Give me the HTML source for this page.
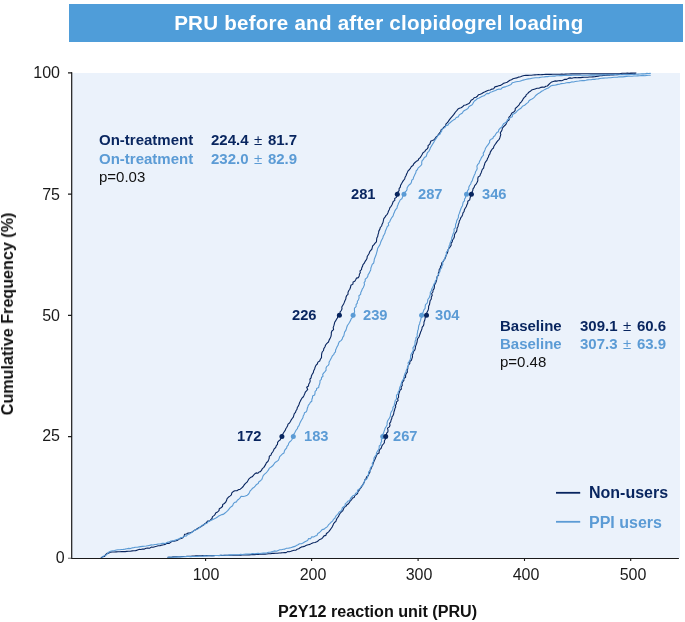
<!DOCTYPE html>
<html><head><meta charset="utf-8"><title>PRU</title>
<style>
html,body{margin:0;padding:0;background:#fff;}
body{width:685px;height:622px;position:relative;overflow:hidden;font-family:"Liberation Sans",sans-serif;}
.abs,.yt,.xt,#title{will-change:transform;}
.abs{position:absolute;white-space:pre;line-height:1;}
#title{left:69px;top:3.5px;width:614px;height:38px;background:#4f9dd9;color:#fff;font-weight:bold;font-size:20.6px;letter-spacing:0.22px;text-align:center;line-height:38px;position:absolute;padding-left:5.6px;box-sizing:border-box;}
#plot{position:absolute;left:72px;top:72.5px;width:607.7px;height:485.5px;background:#ebf2fb;}
.yt{position:absolute;width:60px;left:0;text-align:right;font-size:16px;line-height:16px;height:16px;color:#1a1a1a;}
.xt{position:absolute;width:60px;text-align:center;font-size:16px;line-height:16px;height:16px;top:567.2px;color:#1a1a1a;}
.b{font-weight:bold;}
.dk{color:#08255f;} .lt{color:#5b9bd5;}
.ann{font-size:15px;} .lb{font-size:14.7px;} .v{word-spacing:1.4px;}
svg{position:absolute;left:0;top:0;}
</style></head><body>
<div id="title">PRU before and after clopidogrel loading</div>
<div id="plot"></div>
<svg width="685" height="622" viewBox="0 0 685 622">
<defs><clipPath id="cp"><rect x="72" y="72.1" width="608" height="486.5"/></clipPath></defs>
<g clip-path="url(#cp)" fill="none" stroke-width="1.1" stroke-linejoin="round" stroke-linecap="round">
<path stroke="#08255f" d="M101.2,557.8 L102.7,556.8 L104.6,556.4 L105.6,554.6 L107.0,553.4 L108.9,553.1 L110.5,552.1 L112.4,552.0 L114.3,552.0 L116.3,551.9 L118.0,551.8 L119.8,551.7 L121.5,551.6 L123.3,551.5 L125.1,551.6 L126.8,551.4 L128.5,551.2 L130.3,551.2 L132.1,550.9 L133.9,550.8 L135.6,550.6 L137.3,550.1 L139.0,549.4 L140.9,549.5 L142.6,549.0 L144.4,549.1 L146.1,548.3 L147.8,548.1 L149.6,548.2 L151.3,547.1 L153.1,547.2 L154.8,546.7 L156.5,546.3 L158.3,545.8 L160.1,545.7 L161.8,545.1 L163.6,544.8 L165.3,544.4 L166.9,543.2 L169.0,543.5 L170.6,542.4 L172.2,541.3 L174.1,541.1 L176.0,540.8 L177.8,540.2 L179.3,538.9 L181.2,538.5 L182.9,537.7 L184.1,536.1 L184.6,534.2 L186.4,534.0 L188.1,533.1 L189.9,532.8 L191.5,532.3 L193.0,531.4 L194.3,530.3 L195.8,529.7 L197.2,528.7 L198.7,527.8 L200.4,527.1 L201.9,526.0 L203.5,525.1 L204.8,523.7 L206.4,522.7 L207.6,521.1 L209.6,521.0 L210.8,519.6 L212.0,518.5 L212.5,516.6 L214.0,515.6 L215.1,514.3 L215.9,512.7 L217.6,511.9 L219.0,510.7 L219.3,508.7 L221.0,507.7 L222.5,506.5 L222.7,504.4 L224.4,503.5 L225.7,502.2 L226.5,500.6 L227.1,498.6 L228.3,497.3 L229.9,496.1 L231.4,494.9 L231.8,492.9 L233.2,491.6 L234.9,490.7 L236.9,490.8 L238.5,489.6 L240.3,489.2 L241.8,487.8 L243.2,486.5 L244.2,484.9 L245.5,483.4 L247.0,482.1 L248.0,480.5 L249.0,478.8 L250.4,477.6 L252.2,476.8 L253.4,475.4 L254.6,474.0 L256.1,472.9 L257.8,473.3 L259.0,472.0 L260.4,471.6 L261.6,470.2 L262.4,468.6 L263.9,467.4 L264.8,465.9 L265.7,464.4 L266.4,462.7 L267.9,461.5 L268.6,459.9 L269.2,458.2 L269.3,456.2 L271.0,455.1 L271.5,453.4 L272.7,452.0 L273.5,450.5 L274.2,448.8 L275.7,447.5 L276.3,445.7 L277.5,444.4 L277.6,442.3 L278.8,440.9 L280.3,439.7 L281.0,438.0 L281.8,436.3 L282.4,434.7 L283.3,433.2 L284.2,431.8 L285.2,430.4 L285.8,428.8 L286.8,427.3 L287.6,425.8 L288.0,424.1 L289.5,423.0 L290.4,421.5 L291.2,419.9 L292.2,418.5 L293.3,417.1 L293.8,415.4 L294.3,413.7 L295.5,412.4 L296.0,410.7 L297.0,409.3 L297.3,407.5 L298.3,406.1 L299.0,404.5 L299.5,402.8 L300.3,401.3 L301.0,399.7 L301.9,398.2 L303.2,397.0 L304.0,395.4 L304.7,393.8 L305.3,392.2 L306.5,390.9 L307.7,389.4 L306.7,387.3 L308.5,386.0 L308.7,384.3 L309.6,382.8 L310.2,381.1 L309.9,379.2 L311.1,377.8 L311.4,375.9 L312.2,374.2 L313.3,372.6 L313.7,370.7 L314.6,369.0 L315.1,367.2 L315.9,365.4 L317.3,364.0 L317.9,362.1 L319.7,361.0 L320.4,359.2 L321.5,357.6 L321.5,355.6 L321.7,353.8 L322.2,352.0 L323.5,350.5 L323.8,348.6 L324.9,347.0 L325.6,345.0 L326.9,343.4 L328.5,342.0 L329.1,340.1 L330.1,338.4 L330.9,336.6 L331.3,334.6 L331.3,332.7 L331.9,331.0 L333.6,329.6 L333.2,327.6 L333.8,325.9 L334.3,324.1 L334.7,322.3 L335.6,320.9 L336.4,319.4 L337.4,318.0 L337.8,316.3 L339.6,315.5 L340.0,313.7 L340.1,311.9 L341.3,310.5 L342.0,308.9 L341.8,307.0 L342.7,305.5 L343.6,304.0 L344.3,302.4 L344.9,300.7 L345.8,299.1 L346.0,297.3 L346.6,295.7 L348.0,294.3 L348.0,292.4 L348.7,290.8 L349.8,289.2 L350.5,287.3 L350.9,285.3 L352.9,284.1 L353.1,282.0 L354.8,281.3 L355.7,279.7 L356.5,278.1 L358.4,277.6 L359.2,275.9 L359.4,274.2 L360.3,272.7 L360.0,270.9 L361.5,269.6 L361.7,268.0 L362.5,266.3 L363.0,264.6 L364.3,263.2 L365.0,261.6 L366.0,260.1 L367.0,258.5 L367.2,256.6 L368.0,255.2 L369.0,253.8 L369.5,252.1 L370.4,250.7 L371.7,249.5 L372.2,247.8 L372.6,246.0 L374.0,244.7 L375.1,243.2 L376.4,241.9 L376.6,240.0 L376.8,238.1 L377.7,236.5 L378.0,234.7 L378.6,232.9 L378.8,231.1 L379.8,229.4 L380.3,227.5 L381.6,226.0 L382.1,224.2 L383.0,222.5 L383.4,220.5 L383.8,218.6 L385.0,217.1 L385.9,215.6 L387.2,214.3 L388.0,212.7 L388.5,211.0 L389.4,209.4 L389.9,207.7 L391.1,206.3 L392.0,204.8 L392.6,203.2 L393.2,201.5 L394.8,200.4 L394.7,198.5 L396.4,197.4 L397.0,195.8 L397.5,194.1 L397.8,192.2 L399.1,190.7 L399.1,188.7 L400.3,187.1 L400.6,185.2 L401.6,183.6 L402.5,181.9 L403.5,180.4 L404.7,179.0 L405.1,177.2 L406.0,175.7 L406.6,174.0 L407.4,172.4 L408.1,170.8 L409.5,169.5 L410.5,168.1 L411.4,166.5 L413.0,165.5 L413.7,163.8 L415.0,162.5 L416.3,161.3 L418.0,160.4 L418.8,158.7 L420.2,157.6 L421.2,156.0 L422.1,154.4 L423.0,152.7 L424.7,151.6 L425.7,150.0 L427.2,148.9 L428.1,147.4 L428.1,145.5 L429.7,144.4 L430.3,142.7 L430.9,141.0 L432.5,140.4 L434.1,139.7 L435.2,138.4 L436.1,137.0 L437.5,135.8 L438.5,134.3 L439.6,132.9 L440.7,131.5 L441.2,129.7 L442.8,128.6 L443.9,127.1 L445.5,126.0 L446.0,123.9 L447.4,122.7 L448.5,121.1 L449.5,119.6 L450.7,118.1 L452.0,116.6 L453.3,115.2 L454.4,113.6 L455.5,112.0 L456.8,110.6 L458.0,109.0 L459.4,108.2 L461.1,107.7 L462.6,106.8 L463.9,105.3 L465.7,105.0 L467.3,104.2 L468.9,103.6 L470.1,102.1 L471.1,100.3 L473.0,99.3 L474.1,97.7 L476.0,97.3 L477.4,96.2 L478.6,94.7 L480.3,94.3 L481.9,93.5 L483.4,92.5 L485.1,91.8 L486.7,90.9 L488.4,90.3 L490.2,90.0 L491.9,89.1 L493.7,88.7 L494.9,86.9 L496.9,86.4 L498.6,85.7 L500.7,85.4 L502.3,84.3 L503.9,83.1 L505.5,82.7 L507.1,82.2 L508.5,81.2 L509.9,80.2 L511.5,79.7 L513.0,78.8 L514.9,78.3 L516.8,77.9 L518.6,77.1 L520.5,76.7 L522.3,76.0 L524.2,75.5 L526.0,75.3 L527.8,75.4 L529.6,75.2 L531.4,75.2 L533.1,75.0 L534.9,74.9 L536.7,74.8 L538.5,74.6 L540.3,74.7 L542.1,74.6 L543.9,74.5 L545.7,74.4 L547.5,74.4 L549.3,74.4 L551.0,74.4 L552.8,74.3 L554.6,74.3 L556.4,74.3 L558.2,74.2 L560.0,74.2 L561.8,74.1 L563.7,74.2 L565.5,74.1 L567.3,74.0 L569.1,74.0 L571.0,73.9 L572.8,73.9 L574.6,73.8 L576.4,73.9 L578.2,73.8 L580.0,73.9 L581.8,73.8 L583.6,73.8 L585.5,73.8 L587.3,73.8 L589.1,73.8 L590.9,73.9 L592.7,73.9 L594.5,73.8 L596.3,73.9 L598.1,73.8 L599.9,73.9 L601.7,73.8 L603.5,73.9 L605.3,73.8 L607.2,73.8 L609.0,73.8 L610.8,73.8 L612.6,73.7 L614.4,73.8 L616.2,73.8 L618.0,73.8 L620.0,73.7 L622.0,73.3 L624.0,73.2 L625.7,73.2 L627.4,73.1 L629.1,73.2 L630.9,73.0 L632.6,73.1 L634.3,73.1 L636.0,73.0"/>
<path stroke="#08255f" d="M167.9,557.3 L169.7,557.3 L171.4,557.2 L173.1,556.9 L174.9,556.8 L176.6,556.8 L178.4,556.8 L180.1,556.7 L181.9,556.5 L183.6,556.5 L185.4,556.5 L187.1,556.2 L188.9,556.3 L190.7,556.2 L192.4,556.1 L194.2,556.0 L195.9,555.8 L197.6,555.8 L199.4,555.8 L201.2,555.7 L203.0,555.6 L204.8,555.6 L206.6,555.6 L208.4,555.6 L210.1,555.6 L211.9,555.6 L213.7,555.6 L215.5,555.5 L217.3,555.5 L219.1,555.5 L220.9,555.4 L222.7,555.5 L224.5,555.4 L226.3,555.3 L228.1,555.3 L229.8,555.3 L231.6,555.3 L233.4,555.2 L235.2,555.2 L237.0,555.2 L238.8,555.2 L240.6,555.2 L242.3,555.0 L244.1,555.0 L245.8,555.0 L247.6,554.9 L249.3,554.9 L251.1,554.6 L252.8,554.6 L254.6,554.6 L256.3,554.4 L258.1,554.4 L259.8,554.3 L261.6,554.2 L263.3,554.1 L265.1,554.1 L266.8,554.0 L268.6,553.7 L270.4,553.7 L272.1,553.4 L273.8,553.4 L275.6,553.2 L277.4,553.2 L279.1,553.0 L280.8,552.9 L282.6,552.7 L284.4,552.6 L286.1,552.6 L287.6,551.6 L289.3,551.8 L290.9,551.3 L292.4,550.7 L294.0,550.3 L295.8,550.3 L297.1,549.2 L298.7,548.8 L300.1,547.7 L301.6,546.9 L303.3,546.6 L305.0,546.1 L306.5,545.3 L308.2,544.7 L310.0,544.4 L311.6,543.4 L313.2,542.8 L315.0,542.5 L316.8,541.8 L318.3,540.7 L319.8,539.4 L321.6,538.8 L322.9,537.3 L324.0,535.9 L325.9,535.4 L326.4,533.5 L327.9,532.5 L329.0,531.3 L330.1,529.9 L331.1,528.5 L332.1,527.1 L332.9,525.6 L333.5,523.9 L334.5,522.5 L335.9,521.3 L336.4,519.7 L337.2,518.0 L338.4,516.7 L339.1,515.0 L340.0,513.5 L341.2,512.2 L342.6,510.9 L343.4,509.2 L344.2,507.4 L345.9,506.4 L346.9,504.8 L348.5,503.7 L349.5,502.2 L350.4,500.8 L351.7,499.6 L352.5,498.1 L354.2,497.4 L354.8,495.6 L356.2,494.6 L357.6,493.5 L357.9,491.7 L359.1,490.4 L359.9,488.9 L361.0,487.6 L361.9,486.1 L362.8,484.7 L363.6,483.2 L364.5,481.7 L364.8,479.9 L366.2,478.7 L366.5,476.9 L368.2,475.8 L368.7,474.1 L369.8,472.5 L370.0,470.5 L371.0,468.9 L371.7,467.1 L372.6,465.4 L373.1,463.5 L373.8,461.8 L374.5,460.2 L375.2,458.7 L375.9,457.1 L376.5,455.6 L377.2,454.1 L379.1,453.1 L379.1,451.3 L379.6,449.6 L381.0,448.5 L381.6,446.9 L382.2,445.3 L383.4,444.0 L384.4,442.6 L384.4,440.7 L385.6,438.8 L385.8,436.5 L386.6,435.0 L386.6,433.2 L387.9,431.8 L388.0,430.1 L387.5,428.1 L389.4,426.9 L390.0,425.2 L389.6,423.3 L390.7,421.8 L391.1,420.1 L391.8,418.6 L392.0,416.8 L393.1,415.3 L393.7,413.7 L393.9,412.0 L394.5,410.3 L394.9,408.6 L395.7,407.1 L395.5,405.2 L396.4,403.7 L396.5,401.9 L398.1,400.6 L397.6,398.7 L398.6,397.2 L398.5,395.3 L398.9,393.7 L399.4,392.0 L399.9,390.3 L401.4,389.0 L401.1,387.0 L402.3,385.5 L402.0,383.5 L402.7,381.9 L403.9,380.4 L403.8,378.5 L405.6,377.2 L405.6,375.3 L406.2,373.6 L407.4,372.2 L407.2,370.2 L407.8,368.5 L407.8,366.6 L408.6,365.0 L409.8,363.5 L409.8,361.6 L411.4,360.3 L411.9,358.6 L412.5,356.9 L412.3,355.0 L413.1,353.4 L413.4,351.7 L414.7,350.2 L415.3,348.6 L415.4,346.8 L416.0,345.1 L416.6,343.5 L417.1,341.8 L417.3,340.1 L417.8,338.4 L419.0,337.0 L419.5,335.4 L420.1,333.8 L420.6,332.1 L421.4,330.5 L421.9,328.9 L422.2,327.2 L423.5,325.7 L423.9,323.9 L424.0,322.0 L424.7,320.3 L425.1,318.5 L425.4,316.7 L426.4,315.0 L426.6,313.2 L427.4,311.6 L428.2,310.0 L428.6,308.2 L428.6,306.2 L429.5,304.5 L429.8,302.6 L430.1,300.7 L431.3,299.0 L431.3,297.1 L432.2,295.5 L431.7,293.5 L432.9,292.0 L433.0,290.2 L434.1,288.7 L434.4,286.9 L434.4,285.1 L435.4,283.5 L436.1,281.8 L436.6,280.1 L436.8,278.4 L437.1,276.6 L438.6,275.2 L438.3,273.2 L439.1,271.6 L439.2,269.7 L440.3,268.2 L440.5,266.4 L441.7,264.9 L441.7,263.0 L443.2,261.6 L444.0,260.0 L445.1,258.5 L445.7,256.8 L446.2,255.0 L447.1,253.5 L447.8,251.8 L448.0,249.8 L449.0,248.3 L450.1,246.9 L451.2,245.3 L451.0,243.3 L452.2,241.8 L452.6,240.0 L453.7,238.5 L454.4,236.8 L454.4,234.9 L455.2,233.2 L456.5,231.7 L456.9,229.9 L457.1,228.1 L458.0,226.4 L458.3,224.6 L459.0,222.9 L459.3,221.0 L460.2,219.4 L460.8,217.7 L461.9,216.3 L462.6,214.7 L463.0,212.9 L464.1,211.5 L464.4,209.7 L465.2,208.2 L466.2,206.7 L466.8,205.0 L467.7,203.3 L467.8,201.3 L469.7,199.9 L470.1,198.0 L470.7,196.1 L471.2,194.3 L471.8,192.5 L472.7,190.8 L473.0,188.9 L474.1,187.4 L474.7,185.6 L476.1,184.1 L477.0,182.4 L477.8,180.7 L477.8,178.7 L478.2,177.0 L479.9,175.9 L480.4,174.2 L481.2,172.7 L481.7,171.1 L482.3,169.4 L483.6,168.1 L483.9,166.4 L484.5,164.8 L484.9,163.0 L485.8,161.6 L487.0,160.2 L487.5,158.5 L488.4,157.0 L488.8,155.3 L489.9,153.9 L490.3,152.1 L491.2,150.6 L492.1,149.2 L493.5,148.0 L493.9,146.2 L494.9,144.8 L495.9,143.4 L496.9,141.9 L497.9,140.6 L499.2,139.3 L499.9,137.7 L500.3,136.1 L500.8,134.6 L500.3,132.8 L501.3,131.4 L502.0,129.9 L502.4,128.1 L503.6,126.7 L504.8,125.5 L506.1,124.2 L506.7,122.4 L507.7,120.9 L509.2,119.7 L508.8,117.4 L510.1,116.1 L511.1,114.5 L511.9,112.9 L513.8,112.0 L515.1,110.7 L515.3,108.4 L516.8,107.2 L518.1,105.9 L519.3,104.6 L520.1,103.0 L521.4,101.8 L522.4,100.4 L523.2,98.8 L524.3,97.4 L525.7,96.3 L526.3,94.6 L527.7,93.6 L528.8,92.2 L530.3,91.3 L531.6,90.1 L533.3,89.5 L535.1,88.9 L537.0,88.3 L538.9,88.3 L540.7,87.4 L542.6,87.1 L544.4,87.3 L545.8,86.3 L547.4,86.0 L548.8,84.5 L550.2,83.1 L551.7,81.9 L553.3,81.4 L554.9,80.9 L556.6,81.1 L558.3,80.7 L560.0,80.6 L561.7,80.7 L563.3,80.1 L564.9,79.3 L566.7,79.4 L568.3,78.4 L570.0,77.9 L571.9,78.2 L573.6,77.8 L575.3,77.6 L577.1,77.7 L578.8,77.6 L580.6,77.6 L582.3,77.4 L584.1,77.3 L585.9,77.3 L587.6,77.2 L589.4,77.0 L591.1,77.0 L592.9,76.9 L594.7,76.8 L596.4,76.4 L598.2,76.1 L600.0,75.8 L601.7,75.7 L603.5,75.4 L605.4,75.2 L607.3,74.9 L609.3,75.1 L611.2,74.8 L613.1,74.9 L615.0,74.7 L616.9,74.7 L618.9,74.5 L620.8,74.4 L622.8,74.3 L624.7,74.3 L626.5,74.2 L628.2,74.0 L630.0,73.9 L631.8,74.1 L633.5,74.1 L635.3,73.9"/>
<path stroke="#5b9bd5" d="M101.8,557.8 L103.1,556.3 L105.0,555.6 L106.7,554.7 L108.0,553.1 L109.3,551.7 L111.2,551.0 L112.9,550.8 L114.6,550.6 L116.3,550.0 L118.0,549.8 L119.8,549.8 L121.5,549.5 L123.3,549.4 L125.0,549.1 L126.8,548.7 L128.5,548.4 L130.3,548.6 L132.0,547.9 L133.8,547.6 L135.5,547.2 L137.3,547.2 L139.1,546.9 L140.8,546.6 L142.5,546.4 L144.3,546.2 L146.1,546.0 L147.8,545.7 L149.6,545.4 L151.3,544.9 L153.1,545.0 L154.8,544.5 L156.6,544.4 L158.3,544.0 L160.1,544.0 L161.8,543.4 L163.6,543.2 L165.5,543.5 L167.1,542.4 L168.8,542.1 L170.5,541.1 L172.3,540.9 L174.1,540.6 L175.8,539.9 L177.6,539.4 L179.4,538.7 L181.0,537.5 L183.0,537.3 L184.5,536.1 L186.5,535.9 L187.7,534.5 L189.4,534.0 L190.8,532.9 L192.4,532.2 L193.5,530.8 L195.2,530.2 L196.5,529.1 L198.3,528.7 L199.6,527.5 L200.9,526.5 L202.2,525.2 L204.0,524.8 L205.3,523.8 L207.0,523.3 L208.1,521.7 L209.6,521.0 L211.3,520.3 L212.8,519.5 L214.4,518.7 L215.9,517.9 L217.5,517.0 L218.8,515.9 L220.4,515.2 L222.0,514.6 L223.7,514.1 L225.0,513.0 L226.4,511.9 L227.7,510.7 L228.8,509.3 L229.9,507.9 L231.2,506.7 L232.6,505.7 L233.3,503.9 L234.4,502.5 L236.4,501.9 L237.3,500.2 L238.8,499.2 L240.1,497.9 L241.1,496.3 L243.3,496.5 L245.3,496.0 L247.3,495.2 L248.6,494.0 L249.5,492.4 L250.2,490.8 L251.5,489.6 L252.6,488.2 L254.2,487.2 L255.4,485.9 L256.5,484.4 L258.2,483.5 L258.9,481.7 L260.5,480.7 L261.9,479.3 L262.6,477.4 L263.2,475.6 L264.6,474.2 L266.1,472.9 L267.3,471.5 L268.5,469.9 L269.4,468.1 L271.1,467.0 L272.7,465.8 L273.9,464.2 L275.0,462.5 L276.7,461.5 L278.3,460.4 L279.1,458.6 L279.7,456.7 L281.0,455.4 L282.3,454.0 L284.0,453.0 L284.4,451.1 L285.2,449.5 L286.6,448.2 L287.0,446.4 L288.2,445.1 L288.7,443.3 L289.6,442.0 L290.9,440.8 L292.0,439.5 L292.6,437.9 L293.3,436.4 L293.5,434.5 L294.6,433.1 L295.4,431.6 L296.2,430.0 L297.4,428.7 L297.9,426.9 L299.0,425.6 L299.6,423.9 L300.3,422.3 L301.1,420.8 L302.0,419.3 L302.9,417.8 L303.2,416.0 L304.1,414.5 L304.5,412.7 L306.3,411.7 L307.0,410.1 L307.3,408.3 L307.9,406.7 L308.4,405.1 L309.6,403.8 L310.4,402.3 L311.8,401.2 L311.9,399.3 L312.5,397.7 L312.6,395.9 L314.6,395.0 L315.0,393.3 L315.1,391.4 L316.5,390.2 L316.6,388.4 L318.7,387.5 L318.9,385.7 L319.6,384.1 L320.0,382.4 L320.0,380.6 L321.4,379.3 L321.5,377.5 L323.0,376.3 L322.7,374.3 L323.8,372.9 L325.0,371.6 L326.1,370.2 L326.0,368.2 L326.6,366.6 L328.2,365.4 L329.0,363.9 L329.1,362.0 L330.0,360.5 L330.8,358.9 L331.6,357.4 L332.3,355.9 L333.7,354.7 L334.3,353.1 L335.5,351.9 L335.6,350.0 L336.3,348.5 L337.0,346.9 L338.0,345.3 L338.5,343.5 L339.3,341.8 L341.0,340.6 L342.2,339.1 L342.7,337.3 L343.8,335.8 L344.2,334.0 L344.6,332.2 L345.7,330.7 L346.3,329.0 L346.8,327.2 L347.4,325.5 L348.5,324.0 L349.6,322.3 L350.5,320.6 L351.2,318.7 L352.7,317.3 L353.1,315.3 L353.8,313.6 L354.6,311.9 L354.4,310.0 L354.5,308.1 L356.1,306.6 L356.1,304.7 L357.3,303.2 L357.4,301.3 L358.5,299.7 L359.1,297.9 L358.9,295.7 L360.6,294.4 L360.8,292.5 L361.7,290.8 L362.2,289.1 L363.2,287.7 L363.9,286.1 L364.5,284.5 L364.1,282.6 L365.2,281.2 L365.2,279.2 L366.8,277.9 L367.8,276.4 L368.1,274.6 L369.2,273.1 L369.9,271.5 L370.7,269.9 L370.9,267.9 L371.6,266.2 L372.2,264.4 L373.7,263.0 L374.1,261.2 L374.3,259.2 L375.0,257.5 L375.7,255.8 L376.3,254.0 L376.8,252.2 L377.3,250.5 L377.6,248.6 L378.5,247.0 L379.5,245.4 L380.2,243.9 L380.7,242.3 L381.3,240.7 L382.1,239.2 L382.9,237.7 L383.3,236.0 L384.2,234.6 L385.0,233.1 L385.3,231.3 L386.0,229.7 L386.7,228.1 L387.3,226.5 L388.7,225.3 L388.3,223.2 L389.7,221.9 L390.3,220.3 L391.1,218.8 L392.0,217.3 L393.1,215.9 L393.6,214.1 L394.3,212.6 L394.9,210.9 L395.8,209.4 L397.0,208.1 L397.3,206.3 L398.0,204.7 L398.6,203.0 L399.5,201.5 L400.2,199.9 L401.9,198.8 L402.5,197.1 L403.1,195.5 L404.2,194.1 L404.7,192.4 L406.1,191.1 L407.0,189.7 L407.1,187.7 L408.1,186.2 L409.2,184.8 L410.7,183.7 L411.5,182.1 L411.7,180.3 L413.2,179.1 L413.5,177.4 L414.3,175.8 L415.0,174.3 L415.8,172.8 L416.1,171.0 L417.4,169.7 L418.0,168.1 L419.4,166.9 L420.8,165.7 L421.8,164.3 L421.7,162.2 L422.2,160.5 L423.5,159.3 L424.3,157.5 L426.2,156.4 L426.8,154.5 L427.4,152.6 L428.9,151.3 L429.8,149.6 L430.4,147.8 L431.4,146.1 L432.4,144.5 L433.4,142.9 L434.4,141.3 L435.3,139.6 L436.4,138.2 L437.2,136.7 L438.1,135.2 L439.9,134.3 L440.5,132.7 L441.6,131.3 L442.0,129.4 L443.5,128.4 L445.1,127.4 L445.9,125.6 L447.9,125.1 L448.9,123.5 L450.4,122.5 L451.7,121.2 L453.3,120.1 L455.0,119.2 L456.2,117.5 L458.2,116.9 L459.2,115.0 L460.8,113.9 L462.4,113.0 L463.3,111.3 L464.9,110.3 L466.5,109.5 L468.0,108.4 L468.8,106.7 L470.3,105.8 L471.9,105.0 L472.9,103.6 L473.7,102.0 L474.8,100.7 L476.2,99.7 L477.5,98.5 L479.2,97.9 L480.8,97.1 L482.3,96.3 L484.1,95.8 L485.4,94.6 L486.9,93.4 L488.9,93.6 L490.4,92.2 L492.1,91.7 L493.9,91.1 L495.6,90.5 L497.2,89.5 L499.0,89.1 L501.0,89.2 L502.3,87.6 L504.1,87.1 L505.9,86.6 L507.6,86.0 L509.4,85.2 L511.1,84.4 L512.4,82.7 L514.2,82.3 L516.1,81.8 L517.9,81.5 L519.7,81.3 L521.4,80.7 L523.1,80.1 L524.8,79.7 L526.5,79.3 L528.3,78.9 L530.1,78.8 L531.9,78.3 L533.6,78.0 L535.4,77.8 L537.3,77.8 L539.1,77.6 L540.8,77.3 L542.6,77.0 L544.3,76.9 L546.1,76.6 L547.8,76.6 L549.6,76.3 L551.3,76.2 L553.0,76.0 L554.8,76.1 L556.5,75.8 L558.3,75.7 L560.0,75.6 L561.8,75.6 L563.7,75.5 L565.5,75.4 L567.3,75.5 L569.2,75.4 L571.0,75.4 L572.8,75.3 L574.7,75.3 L576.5,75.2 L578.3,75.3 L580.2,75.2 L582.0,75.2 L583.8,75.3 L585.5,75.2 L587.3,75.3 L589.0,75.1 L590.7,75.1 L592.5,75.1 L594.3,75.1 L596.0,75.0 L597.8,75.0 L599.5,75.0 L601.2,74.9 L603.0,74.9 L604.7,74.8 L606.5,74.8 L608.3,74.9 L610.0,74.8 L611.7,74.8 L613.5,74.7 L615.2,74.6 L616.9,74.8 L618.6,74.7 L620.4,74.6 L622.1,74.7 L623.8,74.6 L625.5,74.6 L627.3,74.6 L629.0,74.6 L630.8,74.5 L632.7,74.4 L634.5,74.2 L636.3,74.2 L638.2,74.1 L640.0,74.0 L641.7,73.9 L643.4,73.9 L645.2,73.9 L646.9,73.4 L648.6,73.5 L650.3,73.4"/>
<path stroke="#5b9bd5" d="M167.9,557.3 L169.6,557.1 L171.4,557.2 L173.1,557.1 L174.9,557.0 L176.7,557.1 L178.4,556.9 L180.1,556.9 L181.9,556.9 L183.6,556.7 L185.4,556.6 L187.1,556.5 L188.9,556.5 L190.7,556.6 L192.4,556.5 L194.2,556.5 L195.9,556.5 L197.7,556.4 L199.4,556.2 L201.2,556.2 L203.0,556.1 L204.8,555.9 L206.6,556.0 L208.4,555.8 L210.1,555.8 L211.9,555.9 L213.7,555.7 L215.5,555.5 L217.3,555.5 L219.1,555.6 L220.9,555.3 L222.7,555.3 L224.5,555.2 L226.3,555.2 L228.1,555.1 L229.8,554.9 L231.6,554.9 L233.4,554.8 L235.2,554.7 L237.0,554.7 L238.8,554.7 L240.5,554.4 L242.3,554.5 L244.1,554.2 L245.8,554.1 L247.6,554.1 L249.3,554.0 L251.1,553.9 L252.8,553.6 L254.6,553.8 L256.3,553.6 L258.1,553.4 L259.8,553.5 L261.6,553.2 L263.3,553.1 L265.1,553.1 L267.0,552.8 L268.8,552.2 L270.8,552.1 L272.6,551.6 L274.4,550.9 L276.4,551.2 L278.2,550.4 L279.8,549.8 L281.5,549.7 L283.2,549.3 L284.9,549.1 L286.4,548.2 L288.2,548.3 L289.8,547.9 L291.4,547.4 L293.1,546.9 L294.9,546.4 L296.4,545.6 L298.0,544.7 L299.5,543.7 L301.4,543.7 L303.0,543.0 L304.5,542.0 L306.0,541.2 L307.6,540.5 L308.6,538.6 L310.6,538.7 L311.6,536.9 L313.6,537.0 L315.1,536.1 L316.9,535.4 L317.8,533.4 L319.5,532.5 L320.8,531.1 L322.1,529.6 L324.2,529.1 L325.8,527.7 L327.5,526.6 L328.4,524.9 L329.8,523.7 L331.0,522.3 L332.6,521.1 L333.4,519.4 L334.9,518.2 L335.6,516.4 L336.9,515.0 L338.2,513.6 L339.2,512.0 L340.9,511.0 L341.9,509.6 L342.3,507.8 L343.7,506.7 L345.1,505.6 L345.3,503.6 L346.8,502.6 L347.7,501.2 L349.7,500.5 L350.5,498.7 L351.6,497.2 L352.8,495.8 L354.8,495.1 L355.6,493.3 L357.4,492.6 L357.5,490.3 L359.1,489.3 L360.2,488.0 L361.2,486.5 L362.6,485.4 L363.7,483.9 L364.1,482.1 L364.7,480.3 L366.6,479.2 L367.5,477.6 L367.6,475.6 L368.7,474.1 L368.5,472.0 L370.4,470.7 L370.2,468.6 L371.1,467.0 L372.7,465.6 L372.2,463.4 L373.3,461.8 L373.8,459.9 L374.0,458.0 L375.0,456.3 L376.3,454.8 L376.5,452.8 L377.5,451.2 L378.7,449.7 L379.2,447.8 L379.2,446.0 L380.8,444.7 L380.8,442.9 L381.7,441.4 L381.3,439.5 L382.8,438.2 L382.5,436.3 L382.5,434.6 L383.5,433.2 L384.0,431.6 L384.6,430.0 L385.1,428.2 L386.2,426.6 L387.1,425.0 L387.1,422.9 L387.5,421.1 L388.5,419.5 L389.6,417.9 L390.3,416.2 L390.5,414.2 L391.0,412.4 L392.0,410.8 L392.9,409.2 L392.9,407.3 L394.2,405.8 L394.4,404.0 L394.9,402.3 L395.2,400.5 L396.5,399.0 L396.5,397.1 L396.5,395.2 L398.0,393.8 L398.1,392.0 L399.2,390.5 L399.5,388.7 L399.9,386.9 L400.8,385.3 L401.2,383.6 L401.7,381.9 L402.6,380.3 L403.6,378.8 L403.9,377.0 L404.5,375.3 L404.9,373.5 L405.9,372.0 L406.3,370.2 L407.2,368.6 L407.5,366.8 L408.7,365.3 L408.0,363.1 L409.1,361.6 L409.9,360.0 L410.6,358.3 L410.6,356.4 L410.9,354.7 L411.8,353.1 L412.8,351.6 L413.3,349.9 L412.9,347.9 L414.0,346.4 L414.9,344.9 L415.0,343.1 L415.1,341.3 L415.9,339.7 L415.9,337.8 L417.3,336.3 L417.1,334.4 L417.5,332.6 L417.7,330.8 L418.4,329.1 L418.5,327.3 L418.8,325.6 L419.6,323.9 L419.9,322.1 L420.6,320.4 L420.9,318.6 L421.7,317.0 L421.6,315.1 L422.5,313.4 L423.3,311.7 L423.9,309.9 L425.1,308.4 L425.2,306.4 L425.5,304.6 L427.2,303.2 L427.6,301.4 L427.8,299.5 L429.1,297.9 L429.7,296.2 L430.3,294.4 L430.3,292.4 L431.4,290.8 L431.7,289.0 L432.6,287.5 L433.3,285.9 L433.9,284.2 L435.0,282.8 L435.3,281.0 L436.5,279.5 L437.0,277.9 L437.5,276.2 L438.3,274.5 L439.2,272.9 L440.0,271.2 L440.2,269.3 L441.6,267.9 L441.9,266.0 L442.8,264.4 L442.5,262.3 L443.3,260.7 L444.8,259.3 L445.0,257.4 L445.8,255.8 L446.6,254.3 L446.2,252.3 L447.5,250.9 L448.6,249.5 L448.8,247.7 L449.1,246.0 L449.8,244.4 L450.2,242.7 L451.0,241.1 L451.7,239.5 L451.7,237.7 L452.5,236.1 L452.9,234.4 L453.6,232.8 L454.2,231.1 L454.0,229.2 L455.3,227.8 L455.5,226.0 L455.6,224.2 L456.5,222.6 L456.6,220.7 L457.6,219.1 L458.4,217.5 L458.4,215.6 L459.1,213.9 L459.7,212.2 L460.3,210.5 L460.9,208.8 L461.6,207.1 L462.5,205.7 L462.8,203.9 L463.2,202.2 L464.5,200.8 L464.5,199.0 L465.6,197.6 L465.5,195.7 L466.7,194.3 L467.1,192.4 L467.6,190.6 L468.8,189.1 L468.8,187.2 L469.6,185.5 L470.8,184.0 L471.2,182.2 L472.3,180.6 L472.8,178.8 L473.6,177.1 L474.2,175.3 L475.1,173.7 L475.5,171.8 L476.6,170.2 L477.2,168.5 L476.9,166.3 L477.6,164.6 L479.1,163.2 L479.5,161.4 L480.5,159.8 L481.2,158.1 L482.1,156.6 L483.5,155.2 L483.2,153.1 L484.3,151.6 L485.0,149.9 L485.5,148.2 L486.5,146.7 L487.6,145.4 L488.6,143.9 L489.6,142.5 L489.7,140.5 L491.0,139.3 L492.8,138.5 L493.5,136.7 L494.9,135.7 L495.8,134.0 L496.8,132.6 L498.4,131.7 L498.9,129.7 L500.1,128.3 L501.7,127.1 L502.6,125.4 L503.5,123.7 L505.2,122.8 L506.7,121.7 L507.4,119.7 L509.0,118.7 L510.5,117.6 L512.3,116.8 L512.6,114.4 L514.4,113.6 L516.0,112.5 L517.1,111.0 L518.5,109.8 L520.1,108.7 L521.5,107.8 L522.4,106.2 L524.2,105.6 L525.5,104.5 L526.8,103.4 L528.2,102.4 L529.0,100.7 L530.4,99.7 L532.0,99.0 L533.4,98.1 L534.7,96.9 L535.7,95.5 L537.0,94.5 L538.4,93.4 L540.1,92.5 L541.6,91.3 L543.3,90.4 L545.0,89.4 L546.8,88.6 L548.4,88.0 L549.7,86.9 L551.1,85.8 L552.8,85.4 L554.5,85.2 L556.2,84.9 L557.9,84.4 L559.6,84.2 L561.2,83.6 L563.0,83.5 L564.7,83.3 L566.5,82.8 L568.2,82.5 L570.0,82.6 L571.7,81.9 L573.5,82.0 L575.3,81.5 L577.0,81.2 L578.8,81.0 L580.5,80.7 L582.3,80.5 L584.1,80.6 L585.9,80.3 L587.6,79.9 L589.4,79.8 L591.1,79.7 L592.9,79.3 L594.7,79.4 L596.4,79.0 L598.2,78.9 L600.0,78.5 L601.7,78.2 L603.5,78.1 L605.3,78.0 L607.0,78.0 L608.8,77.8 L610.6,77.8 L612.3,77.5 L614.1,77.3 L615.9,77.3 L617.6,77.1 L619.4,76.8 L621.2,76.9 L622.9,76.9 L624.7,76.6 L626.5,76.4 L628.4,76.3 L630.2,76.2 L632.1,76.2 L633.9,76.0 L635.8,76.0 L637.7,75.9 L639.5,75.8 L641.3,75.6 L643.1,75.4 L644.9,75.7 L646.7,75.4 L648.5,75.3 L650.3,75.2"/>
</g>
<g stroke="#1a1a1a" fill="none">
<path stroke-width="1.2" d="M71.7,72.3 V559"/>
<path stroke-width="1.1" d="M71.1,558.45 H678.9"/>
<path stroke-width="1.3" d="M68,72.9 H72 M68,194.05 H72 M68,315.4 H72 M68,436.7 H72"/>
<path stroke-width="1.1" d="M205.6,559 V561 M311.6,559 V561 M418.1,559 V561 M524.5,559 V561 M630.7,559 V561"/>
<path d="M68,558.3 H71.2" stroke="#8a8a8a" stroke-width="1.3"/>
</g>
<g>
<circle cx="281.9" cy="436.4" r="2.5" fill="#08255f"/><circle cx="293.3" cy="436.4" r="2.5" fill="#5b9bd5"/>
<circle cx="339.4" cy="315.3" r="2.5" fill="#08255f"/><circle cx="353.1" cy="315.3" r="2.5" fill="#5b9bd5"/>
<circle cx="397.3" cy="194.2" r="2.5" fill="#08255f"/><circle cx="404" cy="194.2" r="2.5" fill="#5b9bd5"/>
<circle cx="382.7" cy="436.4" r="2.5" fill="#5b9bd5"/><circle cx="385.7" cy="436.6" r="2.5" fill="#08255f"/>
<circle cx="421.6" cy="315.2" r="2.5" fill="#5b9bd5"/><circle cx="426.5" cy="315.2" r="2.5" fill="#08255f"/>
<circle cx="466.5" cy="194.2" r="2.5" fill="#5b9bd5"/><circle cx="471.4" cy="194.2" r="2.5" fill="#08255f"/>
</g>
<path d="M556,492.8 H580.2" stroke="#08255f" stroke-width="1.8"/>
<path d="M556,521.8 H580.2" stroke="#5b9bd5" stroke-width="1.8"/>
</svg>
<div class="yt" style="top:64.8px">100</div>
<div class="yt" style="top:186.9px">75</div>
<div class="yt" style="top:307.7px">50</div>
<div class="yt" style="top:428.2px">25</div>
<div class="yt" style="top:549.8px;width:64.7px">0</div>
<div class="xt" style="left:176.3px">100</div>
<div class="xt" style="left:282.7px">200</div>
<div class="xt" style="left:388.5px">300</div>
<div class="xt" style="left:496px">400</div>
<div class="xt" style="left:603px">500</div>
<div id="xtitle" class="abs b" style="left:278px;top:603px;font-size:16.15px;color:#111;">P2Y12 reaction unit (PRU)</div>
<div id="ytitle" class="abs b" style="left:0;top:0;font-size:16.15px;color:#111;transform-origin:0 0;transform:translate(-1px,415.3px) rotate(-90deg);">Cumulative Frequency (%)</div>

<div id="a1" class="abs b ann dk" style="left:98.5px;top:132.4px;">On-treatment</div>
<div id="a1v" class="abs b ann v dk" style="left:211px;top:132.4px;">224.4 <span style="font-weight:normal">±</span> 81.7</div>
<div id="a2" class="abs b ann lt" style="left:98.5px;top:151px;">On-treatment</div>
<div id="a2v" class="abs b ann v lt" style="left:211px;top:151px;">232.0 <span style="font-weight:normal">±</span> 82.9</div>
<div id="a3" class="abs ann" style="left:98.5px;top:169px;color:#111;">p=0.03</div>

<div id="b1" class="abs b ann dk" style="left:500px;top:317.7px;">Baseline</div>
<div id="b1v" class="abs b ann v dk" style="left:579.5px;top:317.7px;">309.1 <span style="font-weight:normal">±</span> 60.6</div>
<div id="b2" class="abs b ann lt" style="left:500px;top:335.8px;">Baseline</div>
<div id="b2v" class="abs b ann v lt" style="left:579.5px;top:335.8px;">307.3 <span style="font-weight:normal">±</span> 63.9</div>
<div id="b3" class="abs ann" style="left:500px;top:353.7px;color:#111;">p=0.48</div>

<div id="l172" class="abs b ann dk lb" style="left:237.2px;top:429.0px;">172</div>
<div id="l183" class="abs b ann lt lb" style="left:304.2px;top:429.0px;">183</div>
<div id="l226" class="abs b ann dk lb" style="left:291.7px;top:307.8px;">226</div>
<div id="l239" class="abs b ann lt lb" style="left:363.2px;top:307.8px;">239</div>
<div id="l281" class="abs b ann dk lb" style="left:350.7px;top:186.7px;">281</div>
<div id="l287" class="abs b ann lt lb" style="left:418.2px;top:186.7px;">287</div>
<div id="l267" class="abs b ann lt lb" style="left:392.9px;top:429.0px;">267</div>
<div id="l304" class="abs b ann lt lb" style="left:435.2px;top:307.8px;">304</div>
<div id="l346" class="abs b ann lt lb" style="left:481.9px;top:186.7px;">346</div>

<div id="lg1" class="abs b dk" style="left:589px;top:484.7px;font-size:16px;">Non-users</div>
<div id="lg2" class="abs b lt" style="left:589px;top:514.9px;font-size:16px;">PPI users</div>
</body></html>
